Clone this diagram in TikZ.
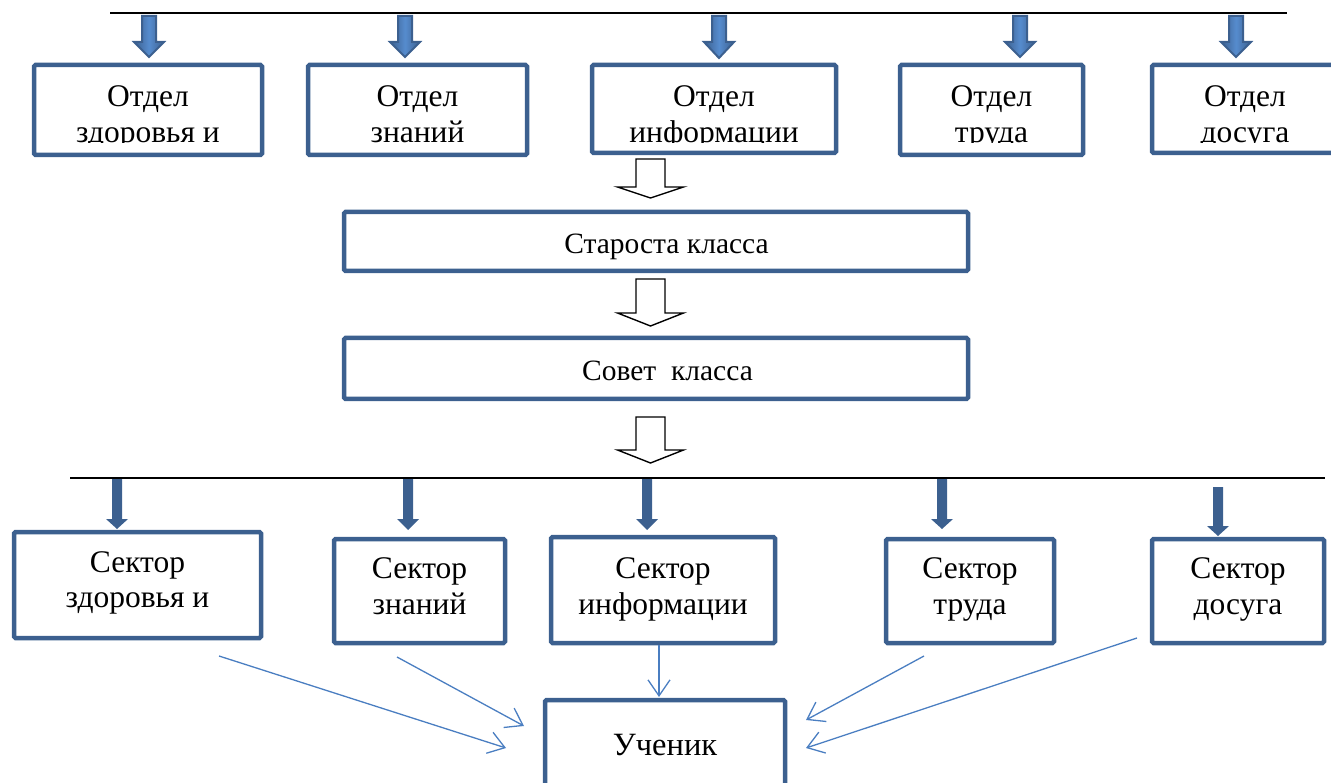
\documentclass[tikz,border=0pt]{standalone}
\usepackage{fontspec}
\setmainfont{Liberation Serif}
\usetikzlibrary{arrows.meta,calc}
\definecolor{boxblue}{RGB}{60,96,143}
\definecolor{arrowlight}{RGB}{86,140,206}
\definecolor{thinblue}{RGB}{74,126,193}
\tikzset{
  box/.style={draw=boxblue, line width=4.5pt, rounded corners=1.5pt, inner sep=0pt},
  lbl/.style={inner sep=0pt, anchor=base, font=\fontsize{31.5}{36}\selectfont},
  midlbl/.style={inner sep=0pt, anchor=base, font=\fontsize{29.5}{33}\selectfont},
  hollow/.style={draw=black, line width=1.4pt, fill=white, line join=miter},
  fat/.style={draw=boxblue, line width=2pt, left color=boxblue, right color=boxblue, middle color=arrowlight},
  solidarr/.style={fill=boxblue, draw=none},
  thin/.style={draw=thinblue, line width=1.3pt, -{Straight Barb[length=16pt, width=22pt, line width=1.3pt]}},
  hline/.style={draw=black, line width=2pt}
}
\newcommand\fatarrow[4]{%
  \shadedraw[fat] (#1-7,#2) -- (#1+7,#2) -- (#1+7,#3) -- (#1+15,#3) -- (#1,#4) -- (#1-15,#3) -- (#1-7,#3) -- cycle;}
\newcommand\solidarrow[4]{%
  \fill[solidarr] (#1-5,#2) -- (#1+5,#2) -- (#1+5,#3) -- (#1+11,#3) -- (#1,#4) -- (#1-11,#3) -- (#1-5,#3) -- cycle;}
\newcommand\hollowarrow[4]{%
  \draw[hollow] (#1-14.5,#2) -- (#1+14.5,#2) -- (#1+14.5,#3) -- (#1+33,#3) -- (#1,#4) -- (#1-33,#3) -- (#1-14.5,#3) -- cycle;}
\begin{document}
\begin{tikzpicture}[x=1pt, y=-1pt]
\useasboundingbox (0,0) rectangle (1331,783);
% top line
\coordinate (tl1) at (110,13);
\coordinate (tl2) at (1287,13);
\draw[hline] (tl1) -- (tl2);
% top boxes
\node[box, minimum width=228pt, minimum height=90pt] (o1) at (148,110) {};
\node[box, minimum width=219pt, minimum height=90pt] (o2) at (417.5,110) {};
\node[box, minimum width=244pt, minimum height=88pt] (o3) at (714,109) {};
\node[box, minimum width=183pt, minimum height=90pt] (o4) at (991.5,110) {};
\node[box, minimum width=186pt, minimum height=88pt] (o5) at (1245,109) {};
\begin{scope}
\clip (0,0) rectangle (1331,142.5);
\node[lbl] (to1a) at (148,107) {Отдел};
\node[lbl] (to1b) at (148,143) {здоровья и};
\node[lbl] (to2a) at (417.5,107) {Отдел};
\node[lbl] (to2b) at (417.5,143) {знаний};
\node[lbl] (to3a) at (714,107) {Отдел};
\node[lbl] (to3b) at (714,143) {информации};
\node[lbl] (to4a) at (991.5,107) {Отдел};
\node[lbl] (to4b) at (991.5,143) {труда};
\node[lbl] (to5a) at (1245,107) {Отдел};
\node[lbl] (to5b) at (1245,143) {досуга};
\end{scope}
% top fat arrows
\fatarrow{149}{16}{42}{57}
\fatarrow{405}{16}{42}{57}
\fatarrow{719}{16}{42}{58}
\fatarrow{1020}{16}{42}{57}
\fatarrow{1236}{16}{42}{57}
% middle
\node[box, minimum width=624pt, minimum height=59pt] (st) at (656,241.5) {};
\node[midlbl] (tst) at (666.5,254) {Староста класса};
\node[box, minimum width=624pt, minimum height=61pt] (sv) at (656,368.5) {};
\node[midlbl] (tsv) at (667.5,381) {Совет~~класса};
\hollowarrow{650.5}{159}{187}{198}
\hollowarrow{650.5}{279}{313}{326}
\hollowarrow{650.5}{417}{450}{463}
% bottom line
\coordinate (bl1) at (70,478);
\coordinate (bl2) at (1325,478);
\draw[hline] (bl1) -- (bl2);
% bottom boxes
\node[box, minimum width=247pt, minimum height=106pt] (s1) at (137.5,585) {};
\node[box, minimum width=171pt, minimum height=104pt] (s2) at (419.5,591) {};
\node[box, minimum width=224pt, minimum height=106pt] (s3) at (663,590) {};
\node[box, minimum width=168pt, minimum height=104pt] (s4) at (970,591) {};
\node[box, minimum width=172pt, minimum height=104pt] (s5) at (1238,591) {};
\node[lbl] (ts1a) at (137.5,572) {Сектор};
\node[lbl] (ts1b) at (137.5,607) {здоровья и};
\node[lbl] (ts2a) at (419.5,578) {Сектор};
\node[lbl] (ts2b) at (419.5,614) {знаний};
\node[lbl] (ts3a) at (663,578) {Сектор};
\node[lbl] (ts3b) at (663,614) {информации};
\node[lbl] (ts4a) at (970,578) {Сектор};
\node[lbl] (ts4b) at (970,614) {труда};
\node[lbl] (ts5a) at (1238,578) {Сектор};
\node[lbl] (ts5b) at (1238,614) {досуга};
\solidarrow{117}{479}{519}{529}
\solidarrow{408}{479}{519}{530}
\solidarrow{647}{479}{519}{530}
\solidarrow{942}{479}{519}{529}
\solidarrow{1218}{487}{526}{536}
% pupil
\node[box, minimum width=240pt, minimum height=98pt] (u) at (665,749) {};
\node[lbl, font=\fontsize{32.5}{36}\selectfont] (tu) at (665,755) {Ученик};
% thin arrows
\coordinate (a1s) at (219,656);
\coordinate (a1e) at (506,748);
\coordinate (a2s) at (397,657);
\coordinate (a2e) at (524,726);
\coordinate (a3s) at (659,645);
\coordinate (a3e) at (659,697);
\coordinate (a4s) at (924,656);
\coordinate (a4e) at (806,720);
\coordinate (a5s) at (1137,638);
\coordinate (a5e) at (806,748);
\draw[thin] (a1s) -- (a1e);
\draw[thin] (a2s) -- (a2e);
\draw[thin] (a3s) -- (a3e);
\draw[thin] (a4s) -- (a4e);
\draw[thin] (a5s) -- (a5e);
\end{tikzpicture}
\end{document}
